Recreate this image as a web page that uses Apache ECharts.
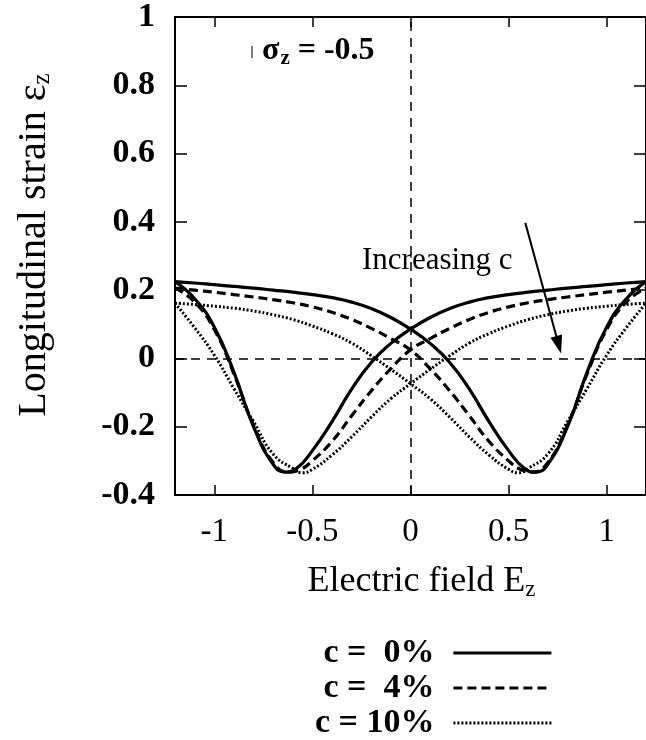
<!DOCTYPE html>
<html>
<head>
<meta charset="utf-8">
<script src="https://cdn.jsdelivr.net/npm/echarts@6/dist/echarts.min.js"></script>
<style>
  html, body { margin: 0; padding: 0; background: #fff; }
  #chart { width: 646px; height: 740px; }
</style>
</head>
<body>
<div id="chart"></div>
<script>
// Butterfly strain loops: longitudinal strain vs electric field, sigma_z = -0.5
// Each loop is stored as two branches of [E, strain] pairs.

// c = 0 %
const c0Down = [[-1.2,0.225],[-1.1,0.221],[-1.0,0.216],[-0.9,0.211],[-0.8,0.206],[-0.7,0.200],[-0.6,0.194],[-0.5,0.187],[-0.4,0.178],[-0.3,0.165],[-0.2,0.146],[-0.1,0.120],[0,0.086],[0.1,0.044],[0.2,-0.012],[0.3,-0.090],[0.4,-0.185],[0.5,-0.270],[0.58,-0.322],[0.64,-0.333],[0.7,-0.310],[0.8,-0.200],[0.9,-0.040],[1.0,0.092],[1.1,0.175],[1.2,0.225]];
const c0Up = [[-1.2,0.225],[-1.1,0.175],[-1.0,0.092],[-0.9,-0.040],[-0.8,-0.200],[-0.7,-0.310],[-0.64,-0.333],[-0.58,-0.322],[-0.5,-0.270],[-0.4,-0.185],[-0.3,-0.090],[-0.2,-0.012],[-0.1,0.044],[0,0.086],[0.1,0.120],[0.2,0.146],[0.3,0.165],[0.4,0.178],[0.5,0.187],[0.6,0.194],[0.7,0.200],[0.8,0.206],[0.9,0.211],[1.0,0.216],[1.1,0.221],[1.2,0.225]];

// c = 4 %
const c4Down = [[-1.2,0.206],[-1.1,0.200],[-1.0,0.194],[-0.9,0.187],[-0.8,0.180],[-0.7,0.172],[-0.6,0.163],[-0.5,0.151],[-0.4,0.135],[-0.3,0.114],[-0.2,0.088],[-0.1,0.058],[0,0.025],[0.1,-0.030],[0.2,-0.095],[0.3,-0.168],[0.4,-0.243],[0.5,-0.300],[0.56,-0.325],[0.62,-0.333],[0.7,-0.305],[0.8,-0.195],[0.9,-0.045],[1.0,0.085],[1.1,0.165],[1.2,0.206]];
const c4Up = [[-1.2,0.206],[-1.1,0.165],[-1.0,0.085],[-0.9,-0.045],[-0.8,-0.195],[-0.7,-0.305],[-0.62,-0.333],[-0.56,-0.325],[-0.5,-0.300],[-0.4,-0.243],[-0.3,-0.168],[-0.2,-0.095],[-0.1,-0.030],[0,0.025],[0.1,0.058],[0.2,0.088],[0.3,0.114],[0.4,0.135],[0.5,0.151],[0.6,0.163],[0.7,0.172],[0.8,0.180],[0.9,0.187],[1.0,0.194],[1.1,0.200],[1.2,0.206]];

// c = 10 %
const c10Down = [[-1.2,0.162],[-1.1,0.158],[-1.0,0.153],[-0.9,0.147],[-0.8,0.139],[-0.7,0.128],[-0.6,0.114],[-0.5,0.095],[-0.4,0.073],[-0.3,0.045],[-0.2,0.008],[-0.1,-0.032],[0,-0.074],[0.1,-0.118],[0.2,-0.172],[0.3,-0.230],[0.4,-0.283],[0.5,-0.325],[0.55,-0.335],[0.6,-0.322],[0.7,-0.280],[0.8,-0.185],[0.9,-0.088],[1.0,0.010],[1.1,0.090],[1.2,0.162]];
const c10Up = [[-1.2,0.162],[-1.1,0.090],[-1.0,0.010],[-0.9,-0.088],[-0.8,-0.185],[-0.7,-0.280],[-0.6,-0.322],[-0.55,-0.335],[-0.5,-0.325],[-0.4,-0.283],[-0.3,-0.230],[-0.2,-0.172],[-0.1,-0.118],[0,-0.074],[0.1,-0.032],[0.2,0.008],[0.3,0.045],[0.4,0.073],[0.5,0.095],[0.6,0.114],[0.7,0.128],[0.8,0.139],[0.9,0.147],[1.0,0.153],[1.1,0.158],[1.2,0.162]];

const seriesNames = ['c =  0%', 'c =  4%', 'c = 10%'];
const xTicks = [-1, -0.5, 0, 0.5, 1];
// arrow pointing in the direction of increasing c: [start, end] in (E, strain)
const arrowFrom = [0.585, 0.397];
const arrowTo = [0.755, 0.040];

const FONT = '"Liberation Serif", "Times New Roman", serif';

const styles = [
  { width: 3.2, type: 'solid' },
  { width: 3.2, type: [9, 5] },
  { width: 3, type: [2, 2] }
];

function branch(name, data, style, extra) {
  return Object.assign({
    name: name,
    type: 'line',
    data: data,
    showSymbol: false,
    symbol: 'none',
    smooth: 0.5,
    lineStyle: { color: '#000', width: style.width, type: style.type, cap: 'butt' },
    itemStyle: { color: '#000' },
    z: 3,
    silent: true
  }, extra || {});
}

const frameLine = { show: true, onZero: false, lineStyle: { color: '#000', width: 2 } };

const chart = echarts.init(document.getElementById('chart'), null, { renderer: 'canvas' });

const option = {
  animation: false,
  backgroundColor: '#fff',
  grid: { left: 175, top: 17, right: -9, bottom: 245, containLabel: false },
  xAxis: [
    {
      type: 'value', min: -1.2, max: 1.2, position: 'bottom',
      axisLine: frameLine,
      axisTick: { show: true, inside: true, length: 10, customValues: xTicks, lineStyle: { color: '#000', width: 1.5 } },
      axisLabel: { customValues: xTicks, margin: 21, color: '#000', fontFamily: FONT, fontSize: 33,
        formatter: v => String(v) },
      splitLine: { show: false },
      name: 'Electric field E{s|z}',
      nameLocation: 'middle',
      nameGap: 68,
      nameTextStyle: { color: '#000', fontFamily: FONT, fontSize: 36, padding: [0, 0, 0, 22],
        rich: { s: { fontFamily: FONT, fontSize: 23, verticalAlign: 'bottom', padding: [15, 0, 0, 0] } } }
    },
    {
      type: 'value', min: -1.2, max: 1.2, position: 'top',
      axisLine: frameLine,
      axisTick: { show: true, inside: true, length: 10, customValues: xTicks, lineStyle: { color: '#000', width: 1.5 } },
      axisLabel: { show: false },
      splitLine: { show: false }
    }
  ],
  yAxis: [
    {
      type: 'value', min: -0.4, max: 1, interval: 0.2, position: 'left',
      axisLine: frameLine,
      axisTick: { show: true, inside: true, length: 12, lineStyle: { color: '#000', width: 1.5 } },
      axisLabel: { margin: 20, color: '#000', fontFamily: FONT, fontSize: 34, fontWeight: 'bold' },
      splitLine: { show: false },
      name: 'Longitudinal strain ε{s|z}',
      nameLocation: 'middle',
      nameGap: 120,
      nameTextStyle: { color: '#000', fontFamily: FONT, fontSize: 40, padding: [0, 0, 0, 22],
        rich: { s: { fontFamily: FONT, fontSize: 25, verticalAlign: 'bottom', padding: [16, 0, 0, 0] } } }
    },
    {
      type: 'value', min: -0.4, max: 1, interval: 0.2, position: 'right',
      axisLine: frameLine,
      axisTick: { show: true, inside: true, length: 12, lineStyle: { color: '#000', width: 1.5 } },
      axisLabel: { show: false },
      splitLine: { show: false }
    }
  ],
  legend: {
    data: seriesNames,
    orient: 'vertical',
    right: 93,
    top: 636,
    bottom: 0,
    padding: 0,
    align: 'right',
    itemWidth: 98,
    itemHeight: 12,
    itemGap: 1,
    selectedMode: false,
    itemStyle: { opacity: 0 },
    lineStyle: { width: 'inherit', type: 'inherit', color: '#000' },
    textStyle: { color: '#000', fontFamily: FONT, fontSize: 34, fontWeight: 'bold', lineHeight: 34, padding: [0, 14, 0, 0] }
  },
  series: [
    branch(seriesNames[0], c0Down, styles[0], {
      markLine: {
        silent: true, symbol: 'none', z: 1,
        label: { show: false },
        lineStyle: { color: '#000', width: 1.5, type: [9, 7] },
        data: [{ xAxis: 0 }, { yAxis: 0 }]
      }
    }),
    branch(seriesNames[0], c0Up, styles[0], {
      markLine: {
        silent: true, z: 5,
        label: { show: false },
        lineStyle: { color: '#000', width: 2, type: 'solid' },
        data: [[
          { coord: arrowFrom, symbol: 'none' },
          { coord: arrowTo, symbol: 'triangle', symbolSize: [12, 18] }
        ]]
      }
    }),
    branch(seriesNames[1], c4Down, styles[1]),
    branch(seriesNames[1], c4Up, styles[1]),
    branch(seriesNames[2], c10Down, styles[2]),
    branch(seriesNames[2], c10Up, styles[2])
  ],
  graphic: [
    {
      type: 'text', left: 262, top: 35, silent: true,
      style: {
        text: '{b|σ}{s|z}{b| = -0.5}',
        rich: {
          b: { fontFamily: FONT, fontSize: 32, fontWeight: 'bold', fill: '#000' },
          s: { fontFamily: FONT, fontSize: 21, fontWeight: 'bold', fill: '#000', padding: [16, 0, 0, 1] }
        }
      }
    },
    {
      type: 'line', silent: true,
      shape: { x1: 252, y1: 46, x2: 252, y2: 58 },
      style: { stroke: '#000', lineWidth: 1 }
    },
    {
      type: 'text', left: 362, top: 245, silent: true,
      style: { text: 'Increasing c', fontFamily: FONT, fontSize: 31, fill: '#000' }
    }
  ]
};

chart.setOption(option);
</script>
</body>
</html>
